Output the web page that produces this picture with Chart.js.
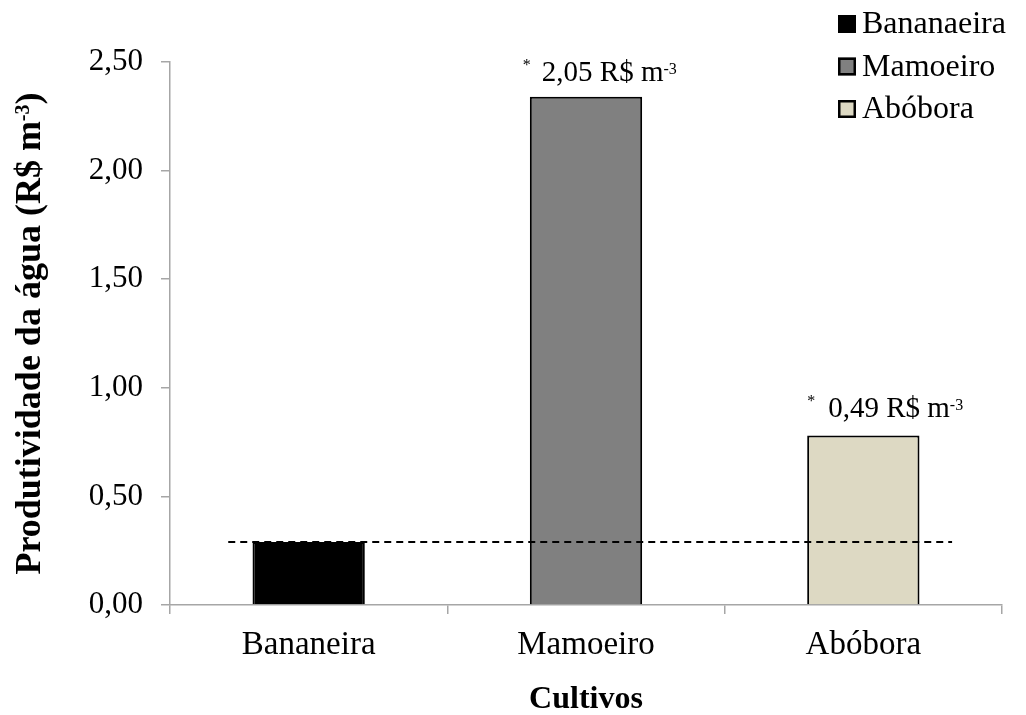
<!DOCTYPE html>
<html lang="pt">
<head>
<meta charset="utf-8">
<title>Produtividade da água por cultivo</title>
<script src="https://cdn.jsdelivr.net/npm/chart.js@4.4.1/dist/chart.umd.min.js"></script>
<style>
  html, body { margin: 0; padding: 0; background: #ffffff; }
  #wrap { width: 1026px; height: 715px; }
</style>
</head>
<body>
<div id="wrap"><canvas id="chart" width="1026" height="715"></canvas></div>
<script>
// Culturas e produtividade da água (R$ por m³)
const cultivos = ['Bananeira', 'Mamoeiro', 'Abóbora'];
const legendaNomes = ['Bananaeira', 'Mamoeiro', 'Abóbora'];
const produtividade = [0.29, 2.34, 0.78];
// A linha tracejada marca o valor da bananeira; os rótulos mostram o ganho sobre ela
const referencia = produtividade[0];
const yTicks = [0, 0.5, 1.0, 1.5, 2.0, 2.5];

const cores = ['#000000', '#808080', '#ddd9c3'];
const SERIF = "'Liberation Serif', 'Times New Roman', serif";

function fmt(v) {
  return v.toFixed(2).replace('.', ',');
}

// Texto com partes sobrescritas: [{t, sup, rise, gap}]
function drawRich(ctx, parts, x, y, size, bold, measureOnly) {
  let cx = x;
  for (const p of parts) {
    const fs = p.sup ? Math.round(size * 0.56) : size;
    ctx.font = (bold ? 'bold ' : '') + fs + 'px ' + SERIF;
    const dy = p.sup ? -(p.rise !== undefined ? p.rise : 0.25) * size : 0;
    if (!measureOnly) ctx.fillText(p.t, cx, y + dy);
    cx += ctx.measureText(p.t).width + (p.gap || 0);
  }
  return cx - x;
}

const extras = {
  id: 'extras',
  afterDatasetsDraw(chart) {
    const { ctx, scales: { x, y } } = chart;
    const meta = chart.getDatasetMeta(0);
    const catW = x.getPixelForValue(1) - x.getPixelForValue(0);

    // linha de referência tracejada
    const yRef = y.getPixelForValue(referencia);
    ctx.save();
    ctx.strokeStyle = '#000000';
    ctx.lineWidth = 2;
    ctx.setLineDash([7, 5]);
    ctx.beginPath();
    ctx.moveTo(x.getPixelForValue(0) - 0.29 * catW, yRef);
    ctx.lineTo(x.getPixelForValue(cultivos.length - 1) + 0.32 * catW, yRef);
    ctx.stroke();
    ctx.restore();

    // rótulos de diferença em relação à bananeira
    const shift = [0, -7, 0];
    const starGap = [0, 11, 13];
    const lift = [0, 16, 19];
    ctx.save();
    ctx.fillStyle = '#000000';
    ctx.textBaseline = 'alphabetic';
    ctx.textAlign = 'left';
    for (let i = 1; i < produtividade.length; i++) {
      const bar = meta.data[i];
      const left = bar.x - bar.width / 2 + shift[i];
      const parts = [
        { t: '*', sup: true, rise: 0.36, gap: starGap[i] },
        { t: fmt(Math.round((produtividade[i] - referencia) * 100) / 100) + ' R$ m' },
        { t: '-3', sup: true, rise: 0.24 }
      ];
      drawRich(ctx, parts, left, bar.y - lift[i], 29, false);
    }
    ctx.restore();
  },
  afterDraw(chart) {
    const { ctx, chartArea } = chart;
    ctx.save();
    ctx.fillStyle = '#000000';

    // legenda
    const lx = 838, ly0 = 24, step = 42.5, box = 18;
    ctx.textBaseline = 'middle';
    ctx.textAlign = 'left';
    for (let i = 0; i < legendaNomes.length; i++) {
      const cy = ly0 + i * step;
      ctx.fillStyle = cores[i];
      ctx.fillRect(lx, cy - box / 2, box, box);
      ctx.strokeStyle = '#000000';
      ctx.lineWidth = 2.5;
      ctx.strokeRect(lx + 1.25, cy - box / 2 + 1.25, box - 2.5, box - 2.5);
      ctx.fillStyle = '#000000';
      ctx.font = '32px ' + SERIF;
      ctx.fillText(legendaNomes[i], lx + 24, cy + 1);
    }

    // título do eixo x
    ctx.textAlign = 'center';
    ctx.textBaseline = 'alphabetic';
    ctx.font = 'bold 32px ' + SERIF;
    ctx.fillText('Cultivos', (chartArea.left + chartArea.right) / 2, 708);

    // título do eixo y (rotacionado)
    const parts = [
      { t: 'Produtividade da água (R$ m' },
      { t: '-3', sup: true, rise: 0.3 },
      { t: ')' }
    ];
    const w = drawRich(ctx, parts, 0, 0, 36, true, true);
    ctx.translate(40, (chartArea.top + chartArea.bottom) / 2);
    ctx.rotate(-Math.PI / 2);
    ctx.textAlign = 'left';
    drawRich(ctx, parts, -w / 2, 0, 36, true);
    ctx.restore();
  }
};

new Chart(document.getElementById('chart'), {
  type: 'bar',
  data: {
    labels: cultivos,
    datasets: [{
      data: produtividade,
      backgroundColor: cores,
      borderColor: '#000000',
      borderWidth: 2,
      categoryPercentage: 1,
      barPercentage: 0.405
    }]
  },
  options: {
    responsive: false,
    animation: false,
    events: [],
    layout: { padding: { top: 62, right: 24, left: 0, bottom: 0 } },
    plugins: {
      legend: { display: false },
      tooltip: { enabled: false }
    },
    scales: {
      x: {
        offset: true,
        grid: {
          offset: true,
          drawOnChartArea: false,
          drawTicks: true,
          tickLength: 9,
          color: '#a6a6a6',
          lineWidth: 1.5
        },
        border: { display: true, color: '#a6a6a6', width: 1.5 },
        ticks: {
          color: '#000000',
          padding: 12,
          font: { family: SERIF, size: 33 }
        },
        afterFit(scale) { scale.height = 110; }
      },
      y: {
        min: 0,
        max: 2.5,
        afterBuildTicks(scale) { scale.ticks = yTicks.map(v => ({ value: v })); },
        grid: {
          drawOnChartArea: false,
          drawTicks: true,
          tickLength: 9,
          color: '#a6a6a6',
          lineWidth: 1.5
        },
        border: { display: true, color: '#a6a6a6', width: 1.5 },
        ticks: {
          color: '#000000',
          padding: 18,
          font: { family: SERIF, size: 31 },
          callback: (v) => fmt(v)
        },
        afterFit(scale) { scale.width = 170; }
      }
    }
  },
  plugins: [extras]
});
</script>
</body>
</html>
